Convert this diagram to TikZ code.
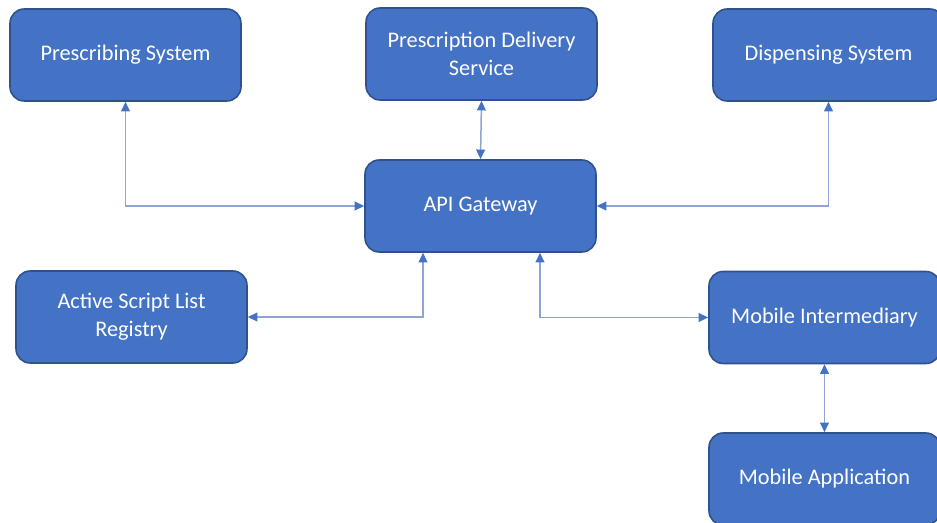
\documentclass[tikz,border=0pt]{standalone}
\usepackage{fontspec}
\setmainfont{Carlito}
\usetikzlibrary{arrows.meta}
\definecolor{boxfill}{HTML}{4472C4}
\definecolor{boxedge}{HTML}{2F528F}
\definecolor{linkline}{HTML}{8EA5D3}
\tikzset{
  sysbox/.style={draw=boxedge, line width=0.9pt, fill=boxfill, rounded corners=8pt,
    minimum width=4.62cm, minimum height=1.84cm, text=white, align=center,
    font=\fontsize{12.7}{15.9}\selectfont, inner sep=0pt},
  link/.style={draw=linkline, line width=0.85pt,
    {Triangle[length=5.5pt,width=5pt,color=boxfill]}-{Triangle[length=5.5pt,width=5pt,color=boxfill]}}
}
\begin{document}
\begin{tikzpicture}[x=0.02cm,y=-0.02cm]
                \useasboundingbox (0,0) rectangle (937,523);
                \clip (0,0) rectangle (937,523);
                \node[sysbox] (PS) at (125.5,55) {Prescribing System};
                \node[sysbox] (PDS) at (481.5,54) {Prescription Delivery\\Service};
                \node[sysbox] (DS) at (828.5,55) {Dispensing System};
                \node[sysbox] (API) at (480.5,206) {API Gateway};
                \node[sysbox] (ASLR) at (131.5,317) {Active Script List\\Registry};
                \node[sysbox] (MI) at (824.5,317.5) {Mobile Intermediary};
                \node[sysbox] (MA) at (824.5,479) {Mobile Application};

                \draw[link] (PS.south) |- (API.west);
                \draw[link] (PDS.south) to (API.north);
                \draw[link] (DS.south) |- (API.east);
                \draw[link] (ASLR.east) -| ([xshift=-1.15cm]API.south);
                \draw[link] ([xshift=1.19cm]API.south) |- (MI.west);
                \draw[link] (MI.south) to (MA.north);
            \end{tikzpicture}
\end{document}
